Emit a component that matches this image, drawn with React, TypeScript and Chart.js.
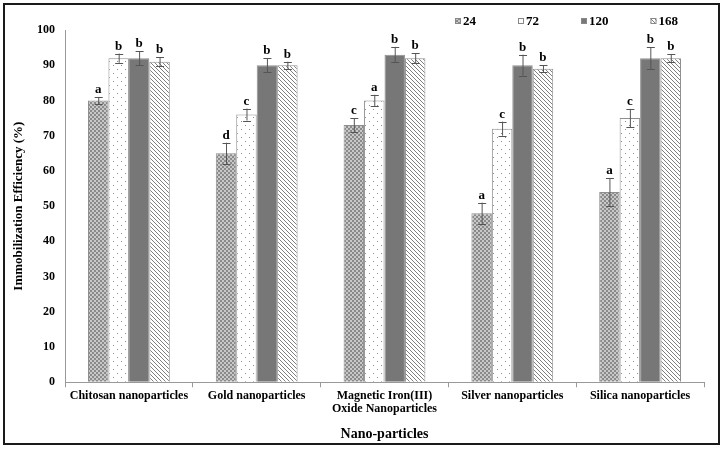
import React, { useEffect, useRef } from "react";
import { Chart, registerables } from "chart.js";
Chart.register(...registerables);

const categories: (string | string[])[] = [
  "Chitosan nanoparticles",
  "Gold nanoparticles",
  ["Magnetic Iron(III)", "Oxide Nanoparticles"],
  "Silver nanoparticles",
  "Silica nanoparticles",
];
const seriesLabels = ["24", "72", "120", "168"];
const series24 = [80, 65, 73, 48, 54];
const series72 = [92, 76, 80, 72, 75];
const series120 = [92, 90, 93, 90, 92];
const series168 = [91, 90, 92, 89, 92];
const err24 = [1, 3, 2, 3, 4];
const err72 = [1.3, 1.7, 1.6, 2, 2.6];
const err120 = [2, 2, 2.2, 3, 3.1];
const err168 = [1.3, 1, 1.4, 1, 1.2];
const letters24 = ["a", "d", "c", "a", "a"];
const letters72 = ["b", "c", "a", "c", "c"];
const letters120 = ["b", "b", "b", "b", "b"];
const letters168 = ["b", "b", "b", "b", "b"];

const FONT = "'Liberation Serif', 'Times New Roman', serif";

function makePattern(kind: string): CanvasPattern | string {
  const c = document.createElement("canvas");
  const ctx = c.getContext("2d")!;
  if (kind === "check") {
    c.width = 4; c.height = 4;
    ctx.fillStyle = "#c8c8c8"; ctx.fillRect(0, 0, 4, 4);
    ctx.fillStyle = "#8a8a8a"; ctx.fillRect(0, 0, 2, 2); ctx.fillRect(2, 2, 2, 2);
  } else if (kind === "dots") {
    c.width = 8; c.height = 8;
    ctx.fillStyle = "#ffffff"; ctx.fillRect(0, 0, 8, 8);
    ctx.fillStyle = "#8c8c8c"; ctx.fillRect(1, 1, 1, 1); ctx.fillRect(5, 5, 1, 1);
  } else if (kind === "diag") {
    c.width = 4; c.height = 4;
    ctx.fillStyle = "#ffffff"; ctx.fillRect(0, 0, 4, 4);
    ctx.fillStyle = "#7e7e7e";
    for (let i = 0; i < 4; i++) ctx.fillRect(i, i, 1, 1);
  } else {
    return "#777777";
  }
  return ctx.createPattern(c, "repeat")!;
}

const errPlugin = {
  id: "errbars",
  afterDatasetsDraw(chart: any) {
    const ctx = chart.ctx;
    const ys = chart.scales.y;
    ctx.save();
    chart.data.datasets.forEach((ds: any, di: number) => {
      const meta = chart.getDatasetMeta(di);
      meta.data.forEach((bar: any, i: number) => {
        const v = ds.data[i];
        const e = ds.errors[i];
        const top = ys.getPixelForValue(v + e);
        const bot = ys.getPixelForValue(v - e);
        const x = bar.x;
        ctx.strokeStyle = "#555";
        ctx.lineWidth = 1;
        ctx.beginPath();
        ctx.moveTo(x + 0.5, top); ctx.lineTo(x + 0.5, bot);
        ctx.moveTo(x - 3.5, Math.round(top) + 0.5); ctx.lineTo(x + 4.5, Math.round(top) + 0.5);
        ctx.moveTo(x - 3.5, Math.round(bot) + 0.5); ctx.lineTo(x + 4.5, Math.round(bot) + 0.5);
        ctx.stroke();
        ctx.fillStyle = "#000";
        ctx.font = `bold 13px ${FONT}`;
        ctx.textAlign = "center";
        ctx.textBaseline = "alphabetic";
        ctx.fillText(ds.letters[i], x, top - 4);
      });
    });
    ctx.restore();
  },
};

const legendPlugin = {
  id: "customLegend",
  afterDraw(chart: any) {
    const ctx = chart.ctx;
    const ds = chart.data.datasets;
    ctx.save();
    ctx.font = `bold 13px ${FONT}`;
    const box = 6, gapBox = 2, gapItem = 42;
    const widths = ds.map((d: any) => box + gapBox + ctx.measureText(d.label).width);
    const total = widths.reduce((a: number, b: number) => a + b, 0) + gapItem * (ds.length - 1);
    let x = chart.chartArea.right - 26 - total;
    const yc = 21;
    ds.forEach((d: any, i: number) => {
      ctx.fillStyle = d.backgroundColor;
      ctx.fillRect(x, yc - box / 2, box, box);
      ctx.strokeStyle = "#888";
      ctx.lineWidth = 1;
      ctx.strokeRect(x + 0.5, yc - box / 2 + 0.5, box - 1, box - 1);
      ctx.fillStyle = "#000";
      ctx.textAlign = "left";
      ctx.textBaseline = "middle";
      ctx.fillText(d.label, x + box + gapBox, yc + 1);
      x += widths[i] + gapItem;
    });
    ctx.restore();
  },
};

export default function App() {
  const ref = useRef<HTMLCanvasElement>(null);
  useEffect(() => {
    const fills = [makePattern("check"), makePattern("dots"), makePattern("solid"), makePattern("diag")];
    const values = [series24, series72, series120, series168];
    const errs = [err24, err72, err120, err168];
    const lets = [letters24, letters72, letters120, letters168];
    const chart = new Chart(ref.current!, {
      type: "bar",
      data: {
        labels: categories,
        datasets: seriesLabels.map((l, i) => ({
          label: l,
          data: values[i],
          backgroundColor: fills[i] as any,
          borderColor: "#8f8f8f",
          borderWidth: 1,
          categoryPercentage: 0.64,
          barPercentage: 1.0,
          errors: errs[i],
          letters: lets[i],
        })) as any,
      },
      options: {
        animation: false,
        responsive: false,
        layout: { padding: { left: 6, right: 19, top: 30, bottom: 6 } },
        plugins: { legend: { display: false }, tooltip: { enabled: false } },
        scales: {
          x: {
            grid: { offset: true, drawOnChartArea: false, tickLength: 5, color: "#999" },
            border: { color: "#999" },
            ticks: {
              color: "#000",
              font: { family: FONT, size: 12, weight: "bold", lineHeight: 1.08 },
              padding: 2,
              maxRotation: 0,
              autoSkip: false,
            },
            title: {
              display: true,
              text: "Nano-particles",
              color: "#000",
              font: { family: FONT, size: 14, weight: "bold" },
              padding: { top: 9, bottom: 0 },
            },
          },
          y: {
            min: 0,
            max: 100,
            grid: { drawOnChartArea: false, drawTicks: false },
            border: { display: true, color: "#999" },
            afterFit: (scale: any) => { scale.width = 59; },
            ticks: {
              stepSize: 10,
              color: "#000",
              font: { family: FONT, size: 12, weight: "bold" },
              padding: 10,
            },
            title: {
              display: true,
              text: "Immobilization Efficiency (%)",
              color: "#000",
              font: { family: FONT, size: 13, weight: "bold" },
              padding: { top: 5, bottom: 6 },
            },
          },
        },
      },
      plugins: [errPlugin, legendPlugin],
    });
    return () => chart.destroy();
  }, []);
  return (
    <div style={{ position: "absolute", left: 0, top: 0, width: 723, height: 449, background: "#fff" }}>
      <canvas ref={ref} width={723} height={449} style={{ position: "absolute", left: 0, top: 0 }} />
      <div
        style={{
          position: "absolute",
          left: 3,
          top: 3,
          width: 717,
          height: 442,
          border: "2px solid #1a1a1a",
          boxSizing: "border-box",
          pointerEvents: "none",
        }}
      />
    </div>
  );
}
